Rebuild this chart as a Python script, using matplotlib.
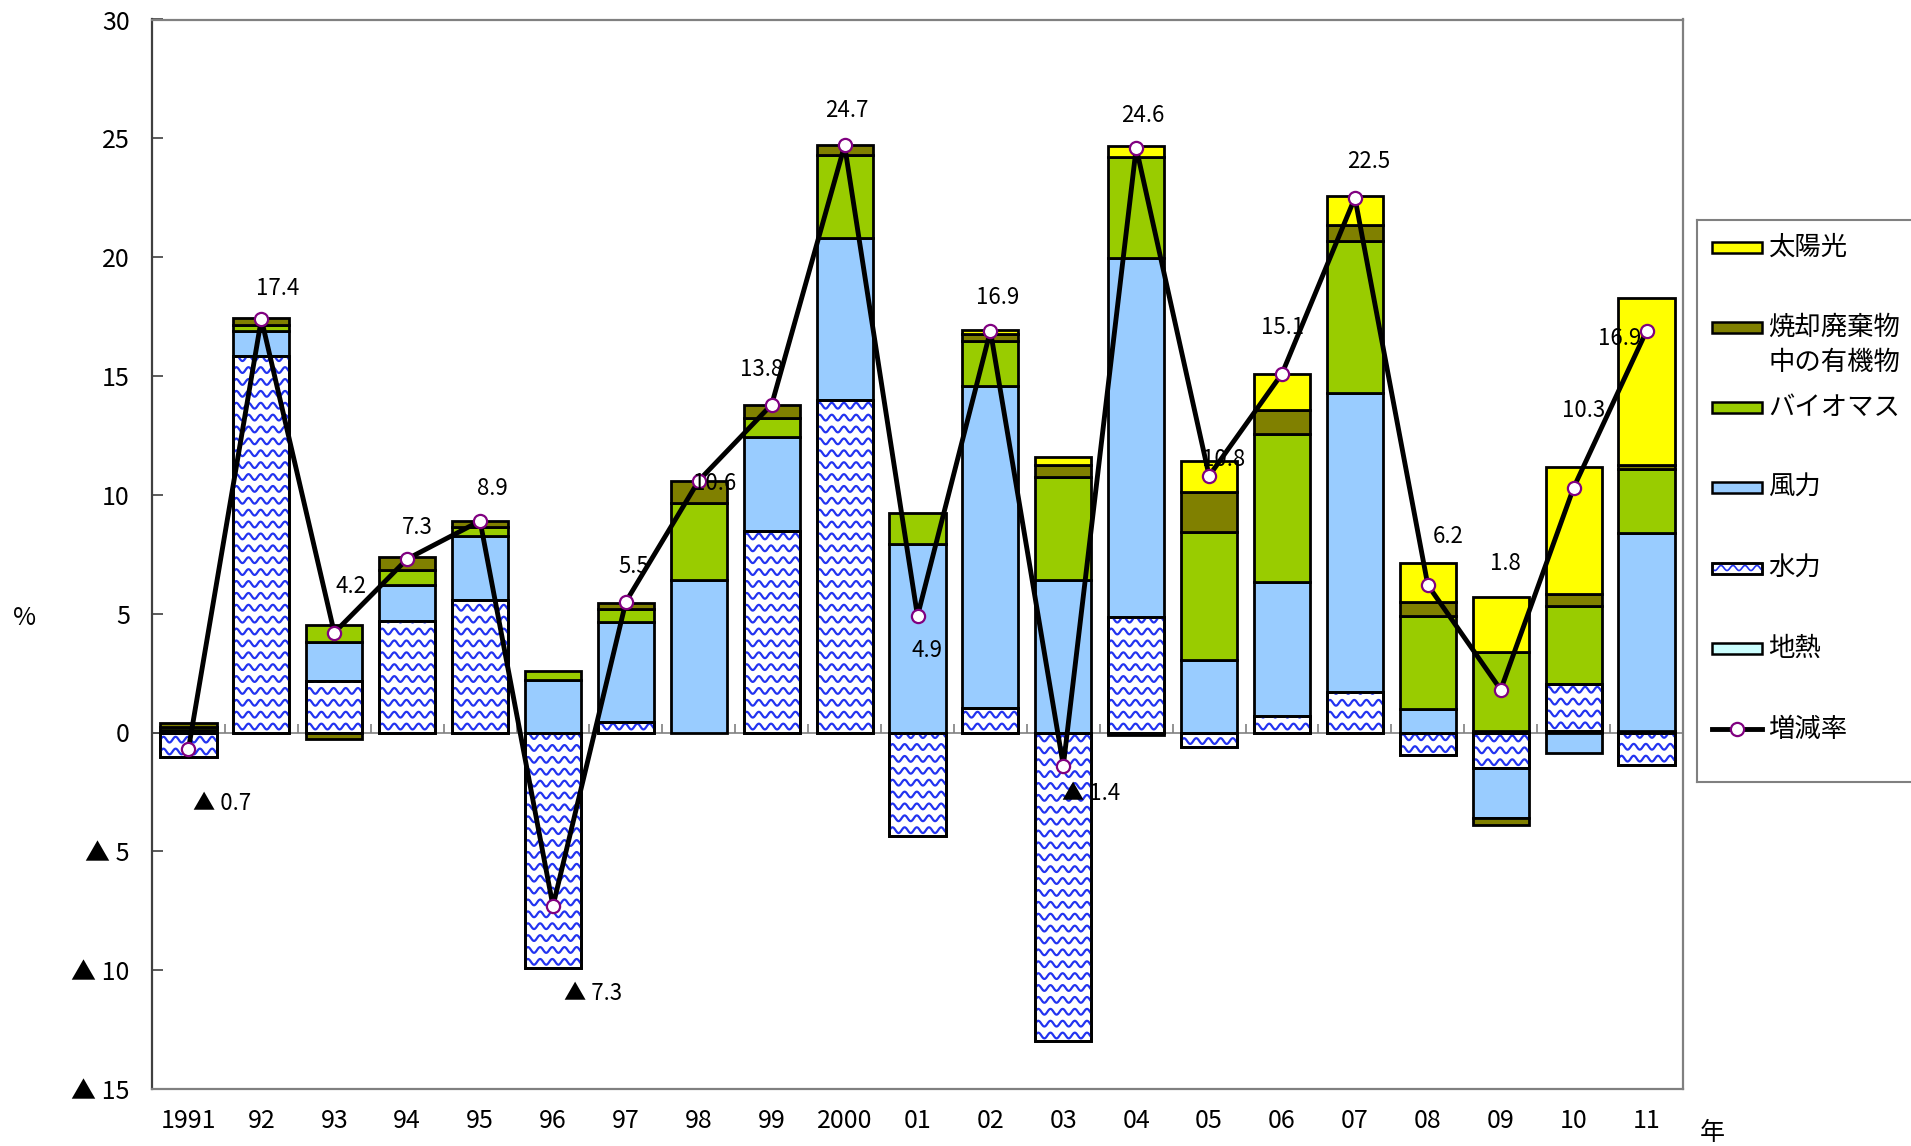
import numpy as np
import matplotlib
matplotlib.use('Agg')
import matplotlib.pyplot as plt
from matplotlib.patches import Rectangle
from matplotlib.collections import LineCollection

plt.rcParams['font.family'] = ['Noto Sans CJK JP', 'DejaVu Sans']

# data (contribution to growth rate, %)
years = ['1991', '92', '93', '94', '95', '96', '97', '98', '99', '2000',
         '01', '02', '03', '04', '05', '06', '07', '08', '09', '10', '11']
rate = [-0.7, 17.4, 4.2, 7.3, 8.9, -7.3, 5.5, 10.6, 13.8, 24.7,
        4.9, 16.9, -1.4, 24.6, 10.8, 15.1, 22.5, 6.2, 1.8, 10.3, 16.9]
geothermal = [0, 0, 0, 0, 0, 0, 0, 0, 0, 0,
              0, 0, 0, 0, 0, 0, 0, 0, 0.05, 0.05, 0.05]
hydro = [-1.05, 15.85, 2.17, 4.68, 5.59, -9.9, 0.46, 0.0, 8.48, 14.0,
         -4.36, 1.05, -13.0, 4.87, -0.61, 0.71, 1.69, -0.95, -1.5, 2.0, -1.35]
wind = [0.1, 1.05, 1.64, 1.51, 2.67, 2.19, 4.17, 6.41, 3.95, 6.8,
        7.93, 13.55, 6.4, 15.11, 3.07, 5.64, 12.6, 0.98, -2.1, -0.87, 8.33]
biomass = [0.15, 0.25, 0.7, 0.63, 0.38, 0.39, 0.58, 3.25, 0.8, 3.49,
           1.32, 1.88, 4.36, 4.25, 5.37, 6.19, 6.39, 3.94, 3.34, 3.27, 2.7]
waste = [0.15, 0.3, -0.28, 0.55, 0.28, 0.0, 0.25, 0.94, 0.53, 0.43,
         0.0, 0.3, 0.5, -0.1, 1.69, 1.05, 0.67, 0.56, -0.3, 0.49, 0.19]
solar = [0, 0, 0, 0, 0, 0, 0, 0, 0, 0,
         0, 0.15, 0.32, 0.45, 1.28, 1.49, 1.21, 1.65, 2.3, 5.37, 7.0]

series = [('地熱', geothermal, '#CCFFFF'),
          ('水力', hydro, 'white'),
          ('風力', wind, '#99CCFF'),
          ('バイオマス', biomass, '#99CC00'),
          ('焼却廃棄物', waste, '#808000'),
          ('太陽光', solar, '#FFFF00')]

# label offsets in pixels (dx, dy downward)
label_off = [(34, 54), (16, -30), (17, -46), (10, -32), (12, -32), (40, 88), (8, -35),
             (16, 3), (-10, -35), (2, -35), (9, 34), (7, -33), (28, 28), (7, -32),
             (14, -16), (1, -46), (14, -36), (20, -49), (5, -126), (10, -77), (-27, 8)]

WAVE_C = '#2233f0'


def wave_fill(axis, patch, dy, amp, period, lw=1.6):
    x0, w = patch.get_x(), patch.get_width()
    y0, h = patch.get_y(), patch.get_height()
    lo, hi = min(y0, y0 + h), max(y0, y0 + h)
    xs = np.linspace(x0, x0 + w, 120)
    segs = [np.column_stack([xs, r + amp * np.sin(2 * np.pi * (xs - x0) / period)])
            for r in np.arange(lo + dy / 2, hi + dy, dy)]
    lc = LineCollection(segs, colors=WAVE_C, linewidths=lw, zorder=patch.get_zorder() + 0.1)
    axis.add_collection(lc)
    # clip after adding, otherwise the axes patch replaces it
    lc.set_clip_path(patch.get_path(), patch.get_transform())


fig = plt.figure(figsize=(19.11, 11.46), dpi=100)
fig.set_facecolor('white')
ax = fig.add_axes([152 / 1911, 1 - 1089 / 1146, (1683 - 152) / 1911, (1089 - 19.5) / 1146])

n = len(years)
x = np.arange(n)
W = 0.77
pos = np.zeros(n)
neg = np.zeros(n)
for name, vals, color in series:
    v = np.array(vals, dtype=float)
    bottom = np.where(v >= 0, pos, neg)
    ecs = ['black' if val != 0 else 'none' for val in v]
    bars = ax.bar(x, v, W, bottom=bottom, color=color, edgecolor=ecs, linewidth=2.0, zorder=2)
    if name == '水力':
        for p, val in zip(bars, v):
            if val != 0:
                wave_fill(ax, p, 0.5, 0.12, 0.167)
        # edges again on top of the waves
        ax.bar(x, v, W, bottom=bottom, fill=False, edgecolor=ecs, linewidth=2.0, zorder=2.3)
    pos = pos + np.clip(v, 0, None)
    neg = neg + np.clip(v, None, 0)

# zero line with category ticks
ax.axhline(0, color='#808080', lw=1.2, zorder=1.5)
ax.vlines(np.arange(1, n) - 0.5, 0, 0.35, color='#808080', lw=1.2, zorder=1.5)

ax.plot(x, rate, color='black', lw=3.5, marker='o', ms=9.5, mfc='white',
        mec='#800080', mew=1.6, zorder=4)

for i, r in enumerate(rate):
    txt = ('▲ ' if r < 0 else '') + f'{abs(r):.1f}'
    dx, dy = label_off[i]
    ax.annotate(txt, (x[i], r), xytext=(dx, -dy), textcoords='offset pixels',
                ha='center', va='center', fontsize=16, zorder=5)

ax.set_xlim(-0.5, n - 0.5)
ax.set_ylim(-15, 30)
yt = list(range(-15, 31, 5))
ax.set_yticks(yt)
ax.set_yticklabels([('▲ ' + str(-t)) if t < 0 else str(t) for t in yt])
ax.set_xticks(x)
ax.set_xticklabels(years)
ax.tick_params(axis='y', direction='in', length=8, width=1.2, pad=16, labelsize=18, color='#404040')
ax.tick_params(axis='x', length=0, pad=14, labelsize=18)
for s in ['top', 'right', 'bottom']:
    ax.spines[s].set_color('#808080')
    ax.spines[s].set_linewidth(1.6)
ax.spines['left'].set_color('#404040')
ax.spines['left'].set_linewidth(1.6)

fig.text(25 / 1911, 1 - 618 / 1146, '%', ha='center', va='center', fontsize=18)
fig.text(1712 / 1911, 1 - 1133 / 1146, '年', ha='center', va='center', fontsize=18)

# legend box
lax = fig.add_axes([1697 / 1911, 1 - 782 / 1146, 230 / 1911, (782 - 220) / 1146])
lax.set_xlim(0, 230)
lax.set_ylim(562, 0)
lax.set_xticks([])
lax.set_yticks([])
for s in lax.spines.values():
    s.set_color('#808080')
    s.set_linewidth(1.5)

legend_rows = [('太陽光', '#FFFF00', 27), ('焼却廃棄物', '#808000', 107),
               ('バイオマス', '#99CC00', 187), ('風力', '#99CCFF', 267),
               ('水力', 'white', 348), ('地熱', '#CCFFFF', 428)]
for label, color, yy in legend_rows:
    rect = Rectangle((15, yy - 5.5), 50, 11, facecolor=color, edgecolor='black', lw=1.8, zorder=2)
    lax.add_patch(rect)
    if label == '水力':
        wave_fill(lax, rect, 11, 2.5, 12, lw=1.2)
        lax.add_patch(Rectangle((15, yy - 5.5), 50, 11, fill=False, edgecolor='black', lw=1.8, zorder=2.3))
    lax.text(71, yy, label, ha='left', va='center', fontsize=19)
lax.text(71, 142, '中の有機物', ha='left', va='center', fontsize=19)
lax.plot([15, 65], [509, 509], color='black', lw=3.5, zorder=2)
lax.plot([40], [509], marker='o', ms=9.5, mfc='white', mec='#800080', mew=1.6, zorder=3)
lax.text(71, 509, '増減率', ha='left', va='center', fontsize=19)

fig.savefig('out.png', dpi=100, facecolor='white')
